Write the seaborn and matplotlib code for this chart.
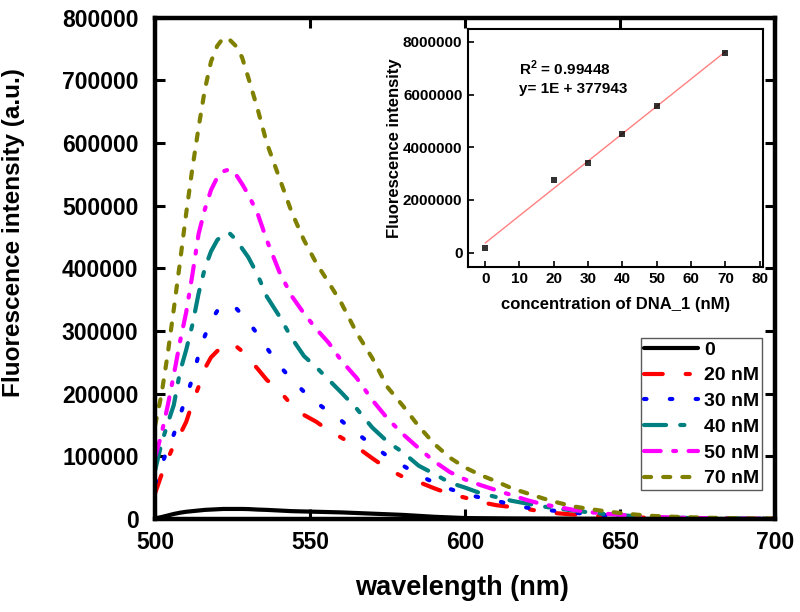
import numpy as np
import pandas as pd
import matplotlib
matplotlib.use('Agg')
import matplotlib.pyplot as plt
import seaborn as sns

# emission spectra
wavelength = [500, 502, 504, 506, 508, 510, 512, 514, 516, 518, 520, 522, 524, 526, 528,
              530, 533, 536, 540, 544, 548, 552, 556, 560, 565, 570, 575, 580, 585, 590,
              595, 600, 605, 610, 615, 620, 625, 630, 635, 640, 645, 650, 655, 660, 670,
              680, 690, 700]

i_0nM = [1000, 3000, 5500, 8000, 10000, 11500, 12500, 13500, 14500, 15000, 15500, 16000,
         16000, 16000, 16000, 15800, 15000, 14500, 13500, 12500, 12000, 11500, 11000, 10500,
         9500, 8500, 7500, 6500, 5000, 3500, 2500, 1500, 1200, 1000, 800, 700, 600, 500,
         400, 300, 250, 200, 180, 150, 120, 100, 100, 100]
i_20nM = [41500, 70000, 95000, 118000, 135000, 155000, 185000, 211000, 240000, 258000,
          268000, 276000, 280000, 276000, 268000, 257000, 240000, 222000, 205000, 182000,
          166000, 155000, 141000, 130000, 115000, 97000, 80000, 67000, 59000, 49000, 40000,
          34000, 27000, 22000, 19000, 16000, 11500, 9000, 7000, 5500, 4200, 3200, 2500, 1900,
          1100, 600, 300, 150]
i_30nM = [57000, 85000, 112000, 135000, 165000, 195000, 224000, 262000, 292000, 316000,
          332000, 340000, 343000, 337000, 326000, 315000, 295000, 273000, 245000, 223000,
          203000, 186000, 171000, 157000, 137000, 118000, 100000, 85000, 70000, 58000, 48000,
          40000, 34000, 29000, 23000, 18000, 15000, 12500, 10000, 8000, 6200, 4800, 3600,
          2700, 1500, 800, 400, 200]
i_40nM = [78000, 120000, 152000, 182000, 235000, 270000, 310000, 360000, 400000, 427000,
          445000, 455000, 456000, 446000, 432000, 418000, 390000, 355000, 324000, 289000,
          260000, 242000, 222000, 202000, 176000, 146000, 123000, 106000, 85000, 72000, 58000,
          50000, 41000, 35000, 29000, 24500, 20000, 16500, 13500, 10500, 8000, 6000, 4500,
          3300, 1800, 1000, 600, 300]
i_50nM = [99000, 135000, 180000, 230000, 283000, 330000, 390000, 455000, 494000, 525000,
          545000, 555000, 558000, 550000, 535000, 518000, 488000, 445000, 395000, 356000,
          328000, 303000, 281000, 253000, 225000, 190000, 160000, 135000, 113000, 92000,
          75000, 63000, 54000, 46000, 38000, 30000, 23500, 19000, 14500, 11000, 8500, 6500,
          4800, 3500, 2000, 1100, 600, 300]
i_70nM = [150000, 198000, 262000, 335000, 410000, 488000, 560000, 625000, 685000, 730000,
          755000, 768000, 765000, 755000, 737000, 705000, 655000, 600000, 545000, 490000,
          445000, 408000, 377000, 345000, 297000, 257000, 210000, 180000, 148000, 120000,
          98000, 82000, 70000, 60000, 49000, 41000, 33000, 26000, 20000, 16000, 12500, 9500,
          7000, 5000, 3000, 1800, 1000, 600]

labels = ['0', '20 nM', '30 nM', '40 nM', '50 nM', '70 nM']
colors = ['black', '#ff0000', '#0000ff', '#008080', '#ff00ff', '#808000']

# inset calibration
conc = [0, 20, 30, 40, 50, 70]
inset_intensity = [180000, 2760000, 3410000, 4510000, 5550000, 7580000]

sns.set_theme(style='ticks')
plt.rcParams['font.family'] = ['Liberation Sans', 'DejaVu Sans']
plt.rcParams['font.weight'] = 'bold'
plt.rcParams['axes.labelweight'] = 'bold'
plt.rcParams['mathtext.fontset'] = 'custom'
plt.rcParams['mathtext.bf'] = 'Liberation Sans:bold'
plt.rcParams['mathtext.rm'] = 'Liberation Sans:bold'
for k in ['axes.edgecolor', 'text.color', 'axes.labelcolor', 'xtick.color', 'ytick.color']:
    plt.rcParams[k] = 'black'

fig = plt.figure(figsize=(8, 6.12), dpi=100)
ax = fig.add_axes([0.194, 0.152, 0.775, 0.819])

styles = ['-', (0, (4.5, 5.5, 1, 5.5)), (0, (0.6, 5.6)), (0, (5.3, 3.4, 1, 3.4)),
          (0, (4, 3, 0.7, 3)), (0, (1.7, 2.9))]
all_series = [i_0nM, i_20nM, i_30nM, i_40nM, i_50nM, i_70nM]

for lab, vals, col, ls in zip(labels, all_series, colors, styles):
    sns.lineplot(x=wavelength, y=vals, ax=ax, color=col, lw=3, linestyle=ls,
                 label=lab, legend=False)
for line in ax.lines:
    line.set_dash_capstyle('round')
    line.set_solid_capstyle('round')

ax.set_xlim(500, 700)
ax.set_ylim(0, 800000)
ax.set_xticks([500, 550, 600, 650, 700])
ax.set_yticks(np.arange(0, 800001, 100000))
ax.ticklabel_format(style='plain', useOffset=False)
ax.tick_params(direction='in', top=True, right=True, length=7, width=2.2,
               labelsize=16.5)
ax.tick_params(axis='x', pad=9)
ax.tick_params(axis='y', pad=12)
for s in ax.spines.values():
    s.set_linewidth(3.2)

ax.set_xlabel('wavelength (nm)', fontsize=19.5)
ax.set_ylabel('Fluorescence intensity (a.u.)', fontsize=17.5)
ax.xaxis.set_label_coords(0.495, -0.112)
ax.yaxis.set_label_coords(-0.21, 0.571)

leg = ax.legend(loc='upper right', bbox_to_anchor=(0.979, 0.361), frameon=True,
                fancybox=False, edgecolor='0.35', framealpha=1, borderpad=0.15,
                handlelength=2.8, handletextpad=0.3, labelspacing=0.42,
                borderaxespad=0, prop={'size': 14, 'weight': 'bold'})
leg.get_frame().set_linewidth(1)

# inset
axin = fig.add_axes([0.585, 0.564, 0.369, 0.389])
sns.regplot(x=conc, y=inset_intensity, ax=axin, ci=None, truncate=True, marker='s',
            scatter_kws={'color': 'black', 's': 18, 'zorder': 3, 'linewidths': 0},
            line_kws={'color': '#ff8080', 'lw': 1})
axin.set_xlim(-5, 81)
axin.set_ylim(-540000, 8500000)
axin.set_xticks(np.arange(0, 81, 10))
axin.set_yticks(np.arange(0, 8000001, 2000000))
axin.ticklabel_format(style='plain', useOffset=False)
axin.tick_params(direction='in', length=4, width=1.2, labelsize=11, pad=4)
for s in axin.spines.values():
    s.set_linewidth(1.5)
axin.set_xlabel('concentration of DNA_1 (nM)', fontsize=12, labelpad=8)
axin.set_ylabel('Fluorescence intensity', fontsize=12, labelpad=1)
axin.text(10, 6.75e6, r'R$^\mathbf{2}$ = 0.99448', fontsize=11, fontweight='bold')
axin.text(10, 6.05e6, 'y= 1E + 377943', fontsize=11, fontweight='bold')

fig.savefig('out.png', dpi=100)
